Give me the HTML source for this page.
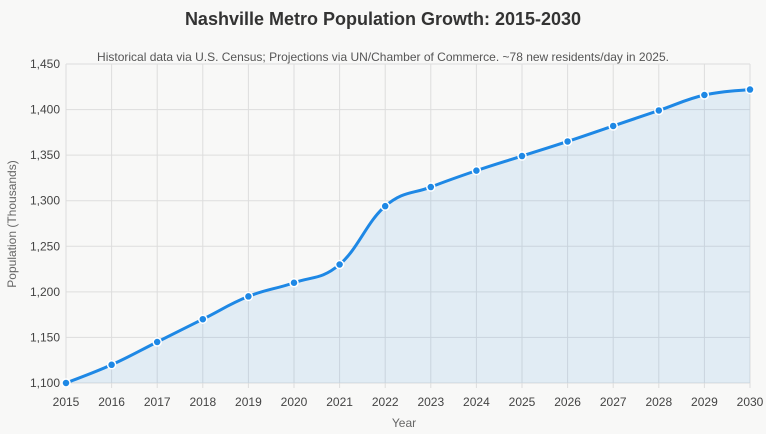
<!DOCTYPE html>
<html><head><meta charset="utf-8"><style>
html,body{margin:0;padding:0;background:#f8f8f7;}
svg{display:block;font-family:"Liberation Sans",Arial,sans-serif;}
</style></head><body>
<svg id="chart" width="766" height="434">
<text x="383" y="25" text-anchor="middle" font-size="18" font-weight="bold" fill="#333">Nashville Metro Population Growth: 2015-2030</text>
<text x="383" y="61" text-anchor="middle" font-size="12" fill="#555">Historical data via U.S. Census; Projections via UN/Chamber of Commerce. ~78 new residents/day in 2025.</text>
<g id="grid"></g>
<g id="axes"></g>
<g id="series"></g>
<text x="404" y="427" text-anchor="middle" font-size="12" fill="#666">Year</text>
<text transform="translate(16,224) rotate(-90)" text-anchor="middle" font-size="12" fill="#666">Population (Thousands)</text>
</svg>
<script>
const years=[2015,2016,2017,2018,2019,2020,2021,2022,2023,2024,2025,2026,2027,2028,2029,2030];
const population=[1100,1120,1145,1170,1195,1210,1230,1294,1315,1333,1349,1365,1382,1399,1416,1422];
const yTicks=[1100,1150,1200,1250,1300,1350,1400,1450];
const NS="http://www.w3.org/2000/svg";
const L=66,R=750,T=64,B=383,yMin=1100,yMax=1450;
const xs=i=>L+(R-L)*i/(years.length-1);
const ys=v=>B-(v-yMin)/(yMax-yMin)*(B-T);
function mk(tag,attrs,parent){const e=document.createElementNS(NS,tag);for(const k in attrs)e.setAttribute(k,attrs[k]);parent.appendChild(e);return e;}
const grid=document.getElementById('grid'),axes=document.getElementById('axes'),series=document.getElementById('series');
yTicks.forEach(t=>{
  const l=mk('line',{x1:L,x2:R,y1:ys(t),y2:ys(t),stroke:'#ddd','stroke-width':1},grid);
  
  
  const tx=mk('text',{x:L-6,y:ys(t)+4,'text-anchor':'end','font-size':12,fill:'#444'},axes);
  tx.textContent=t.toLocaleString('en-US');
  
  
});
years.forEach((y,i)=>{
  const l=mk('line',{x1:xs(i),x2:xs(i),y1:T,y2:B+5,stroke:'#ddd','stroke-width':1},grid);
  
  
  const tx=mk('text',{x:xs(i),y:B+23,'text-anchor':'middle','font-size':12,fill:'#444'},axes);
  tx.textContent=y;
  
  
});
const pts=population.map((v,i)=>[xs(i),ys(v)]);
let d='M'+pts[0][0]+','+pts[0][1];
const tn=0.2;
for(let i=0;i<pts.length-1;i++){
  const p0=pts[Math.max(0,i-1)],p1=pts[i],p2=pts[i+1],p3=pts[Math.min(pts.length-1,i+2)];
  const c1=[p1[0]+(p2[0]-p0[0])*tn,p1[1]+(p2[1]-p0[1])*tn];
  const c2=[p2[0]-(p3[0]-p1[0])*tn,p2[1]-(p3[1]-p1[1])*tn];
  d+=' C'+c1+' '+c2+' '+p2;
}
const area=mk('path',{d:d+' L'+R+','+B+' L'+L+','+B+' Z',fill:'rgba(30,136,229,0.1)'},series);


const line=mk('path',{d:d,fill:'none',stroke:'#1e88e5','stroke-width':3},series);


pts.forEach(p=>{
  const c=mk('circle',{cx:p[0],cy:p[1],r:4,fill:'#1e88e5',stroke:'#fff','stroke-width':1.5},series);
  
  
});
</script>
</body></html>
